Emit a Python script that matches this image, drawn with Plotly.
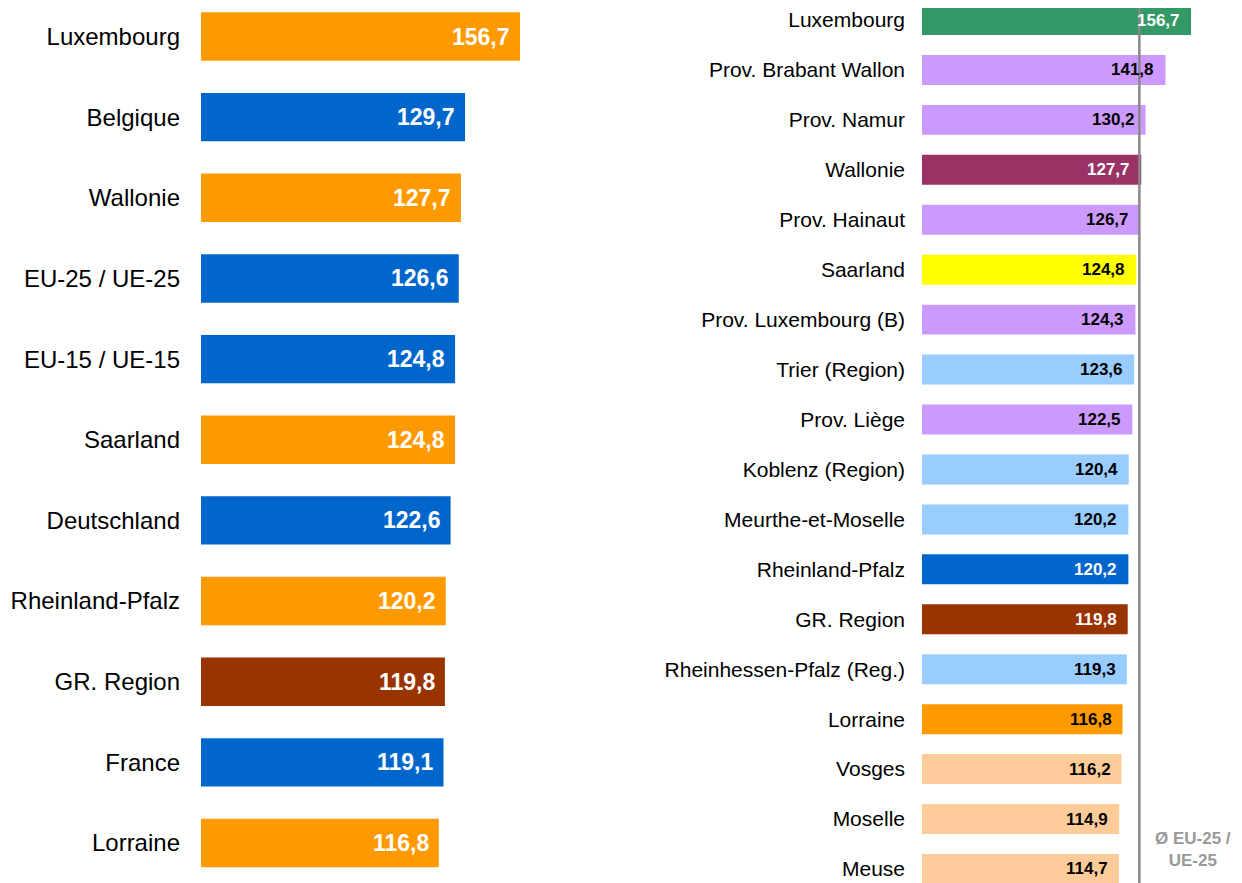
import plotly.graph_objects as go

left_cats = ["Luxembourg", "Belgique", "Wallonie", "EU-25 / UE-25", "EU-15 / UE-15",
             "Saarland", "Deutschland", "Rheinland-Pfalz", "GR. Region", "France", "Lorraine"]
left_vals = [156.7, 129.7, 127.7, 126.6, 124.8, 124.8, 122.6, 120.2, 119.8, 119.1, 116.8]
left_colors = ["#FF9900", "#0066CC", "#FF9900", "#0066CC", "#0066CC", "#FF9900",
               "#0066CC", "#FF9900", "#993300", "#0066CC", "#FF9900"]

right_cats = ["Luxembourg", "Prov. Brabant Wallon", "Prov. Namur", "Wallonie", "Prov. Hainaut",
              "Saarland", "Prov. Luxembourg (B)", "Trier (Region)", "Prov. Liège",
              "Koblenz (Region)", "Meurthe-et-Moselle", "Rheinland-Pfalz", "GR. Region",
              "Rheinhessen-Pfalz (Reg.)", "Lorraine", "Vosges", "Moselle", "Meuse"]
right_vals = [156.7, 141.8, 130.2, 127.7, 126.7, 124.8, 124.3, 123.6, 122.5, 120.4,
              120.2, 120.2, 119.8, 119.3, 116.8, 116.2, 114.9, 114.7]
right_colors = ["#339966", "#CC99FF", "#CC99FF", "#993366", "#CC99FF", "#FFFF00", "#CC99FF",
                "#99CCFF", "#CC99FF", "#99CCFF", "#99CCFF", "#0066CC", "#993300", "#99CCFF",
                "#FF9900", "#FFCC99", "#FFCC99", "#FFCC99"]
right_text_colors = ["white", "black", "black", "white", "black", "black", "black", "black",
                     "black", "black", "black", "white", "white", "black", "black", "black",
                     "black", "black"]

eu25_value = left_vals[3]
eu25_label = "Ø EU-25 /<br>UE-25"

# page body has an 8px margin: figure is drawn from (8, 8) in the window
W, H = 1234, 875
FONT = "Liberation Sans, Arial, sans-serif"

def fmt(v):
    return f"{v:.1f}".replace(".", ",")

left_y = list(range(len(left_cats)))
right_y = list(range(len(right_cats)))

fig = go.Figure()
fig.add_trace(go.Bar(
    x=left_vals, y=left_y, orientation="h", marker=dict(color=left_colors, line=dict(width=0)),
    width=0.6, xaxis="x", yaxis="y", hoverinfo="skip", showlegend=False))
fig.add_trace(go.Bar(
    x=right_vals, y=right_y, orientation="h", marker=dict(color=right_colors, line=dict(width=0)),
    width=0.6, xaxis="x2", yaxis="y2", hoverinfo="skip", showlegend=False))

annotations = []
for yi, v in zip(left_y, left_vals):
    annotations.append(dict(x=v, y=yi, xref="x", yref="y", text=fmt(v), showarrow=False,
                            xanchor="right", yanchor="middle", xshift=-8,
                            font=dict(family=FONT, size=23, color="white", weight="bold")))
for yi, v, c in zip(right_y, right_vals, right_text_colors):
    annotations.append(dict(x=v, y=yi, xref="x2", yref="y2", text=fmt(v), showarrow=False,
                            xanchor="right", yanchor="middle", xshift=-9,
                            font=dict(family=FONT, size=17, color=c, weight="bold")))
annotations.append(dict(x=1185 / W, y=1 - 841 / H, xref="paper", yref="paper", text=eu25_label,
                        showarrow=False, xanchor="center", yanchor="middle", align="center",
                        font=dict(family=FONT, size=17, color="#999999", weight="bold")))

left_x0, left_x1 = 193, 560
left_scale = 2.036
right_x0 = 914
right_scale = 1.717
right_row = 49.94
right_top = -0.2402

fig.update_layout(
    width=W, height=H, margin=dict(l=0, r=0, t=0, b=0, autoexpand=False),
    paper_bgcolor="white", plot_bgcolor="white",
    barmode="overlay",
    xaxis=dict(domain=[left_x0 / W, left_x1 / W], range=[0, (left_x1 - left_x0) / left_scale],
               visible=False, fixedrange=True, automargin=False),
    yaxis=dict(domain=[0, 1], range=[10.496, -0.3534], tickmode="array", tickvals=left_y,
               ticktext=left_cats, ticks="", showgrid=False, zeroline=False, showline=False,
               ticklabelstandoff=20, ticklabeloverflow="allow", anchor="x", automargin=False,
               tickfont=dict(family=FONT, size=24, color="black")),
    xaxis2=dict(domain=[right_x0 / W, 1], range=[0, (W - right_x0) / right_scale],
                visible=False, fixedrange=True, anchor="y2", automargin=False),
    yaxis2=dict(domain=[0, 1], range=[right_top + H / right_row, right_top], tickmode="array",
                tickvals=right_y, ticktext=right_cats, ticks="", showgrid=False, zeroline=False,
                showline=False, ticklabelstandoff=16, ticklabeloverflow="allow", anchor="x2",
                automargin=False, tickfont=dict(family=FONT, size=21, color="black")),
    shapes=[dict(type="line", xref="x2", yref="paper", x0=eu25_value, x1=eu25_value,
                 y0=0, y1=1, line=dict(color="#888888", width=2.5))],
    annotations=annotations,
)

fig.write_html("out.html")
